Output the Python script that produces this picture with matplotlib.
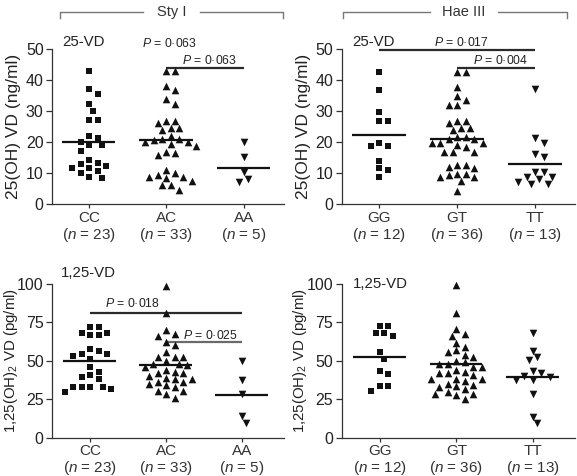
import numpy as np
import matplotlib
matplotlib.use('Agg')
import matplotlib.pyplot as plt
from matplotlib.lines import Line2D

plt.rcParams['font.family'] = ['Liberation Sans', 'DejaVu Sans']
plt.rcParams['mathtext.fontset'] = 'custom'
plt.rcParams['mathtext.rm'] = 'Liberation Sans'
plt.rcParams['mathtext.it'] = 'Liberation Sans:italic'

# ---- data ----
sty_cats = ['CC', 'AC', 'AA']
sty_n = [23, 33, 5]
hae_cats = ['GG', 'GT', 'TT']
hae_n = [12, 36, 13]

# 25(OH) VD, Sty I
sty25_cc = [43.1, 37.1, 35.5, 32.3, 30.1, 27.1, 27.1, 22.1, 21.4, 20.2, 19.2, 19.2,
            17.3, 14.3, 13.2, 12.9, 12.4, 11.6, 11.6, 10.7, 10.0, 8.9, 8.4]
sty25_ac = [43.1, 43.1, 38.2, 36.9, 34.1, 32.3, 27.0, 27.0, 26.1, 24.7, 24.7, 24.0,
            22.0, 21.0, 21.0, 20.7, 20.2, 20.2, 19.4, 18.8, 17.0, 16.5, 15.9,
            11.1, 10.0, 9.5, 8.9, 8.7, 8.4, 7.6, 6.2, 6.2, 4.6]
sty25_aa = [20.2, 15.4, 10.5, 8.1, 7.3]
sty25_med = [20.2, 20.7, 11.8]

# 25(OH) VD, Hae III
hae25_gg = [42.8, 36.9, 29.9, 27.0, 27.0, 19.9, 18.8, 18.8, 14.1, 11.6, 11.1, 8.7]
hae25_gt = [42.8, 42.8, 37.9, 34.9, 33.6, 32.0, 32.0, 27.0, 27.0, 26.1, 24.7, 24.7,
            24.0, 21.8, 21.8, 21.0, 21.0, 19.8, 19.8, 19.8, 19.1, 18.4, 17.0, 17.0,
            17.0, 12.7, 12.7, 11.9, 11.6, 9.8, 9.8, 9.3, 8.7, 8.7, 7.6, 4.4]
hae25_tt = [37.1, 21.3, 19.9, 16.1, 15.2, 10.5, 10.5, 8.9, 8.9, 8.1, 7.3, 6.5, 6.5]
hae25_med = [22.2, 21.0, 13.0]

# 1,25(OH)2 VD, Sty I
sty125_cc = [72.1, 72.1, 68.4, 68.4, 66.6, 66.6, 57.4, 56.7, 54.5, 54.5, 53.0, 51.2,
             45.7, 42.9, 40.7, 39.8, 38.0, 33.2, 33.2, 33.2, 33.2, 31.4, 29.7]
sty125_ac = [98.5, 80.9, 69.9, 67.7, 66.2, 62.2, 60.0, 55.6, 52.3, 52.3, 52.3,
             50.0, 48.0, 48.0, 47.0, 46.0, 44.0, 43.0, 42.0, 42.0, 40.0, 39.0, 38.0,
             38.0, 36.0, 36.0, 35.0, 34.0, 33.0, 30.3, 30.3, 28.1, 26.0]
sty125_aa = [50.1, 37.6, 28.1, 13.9, 9.5]
sty125_med = [49.7, 47.5, 27.5]

# 1,25(OH)2 VD, Hae III
hae125_gg = [72.7, 72.7, 68.4, 68.4, 66.3, 55.5, 51.2, 43.7, 41.5, 33.4, 33.4, 30.3]
hae125_gt = [99.2, 81.3, 70.6, 67.7, 66.3, 61.9, 59.2, 57.0, 55.5, 54.0, 52.8, 50.1,
             49.0, 48.0, 48.0, 46.3, 46.3, 43.9, 42.6, 41.9, 41.9, 40.5, 38.3, 38.3,
             37.9, 37.2, 35.1, 34.0, 33.4, 32.9, 31.9, 30.0, 28.6, 28.6, 27.5, 25.4]
hae125_tt = [68.4, 56.6, 52.3, 50.6, 43.7, 41.9, 40.3, 39.4, 37.6, 37.6, 28.6, 13.6, 9.3]
hae125_med = [52.7, 48.0, 39.4]

# significance bars: (from group, to group, height, label, label x, label y)
sty25_p = [(None, None, None, '0·063', 1.04, 52.0), (1, 2, 44.0, '0·063', 1.56, 46.5)]
hae25_p = [(0, 2, 49.7, '0·017', 1.06, 52.3), (1, 2, 44.0, '0·004', 1.55, 46.5)]
sty125_p = [(0, 2, 81.0, '0·018', 0.56, 87.0), (1, 2, 62.0, '0·025', 1.58, 66.6)]
hae125_p = []

markers = ['s', '^', 'v']
msize = [24, 30, 30]
ink = '#111111'
axcol = '#333333'


def swarm(ax, x0, vals, dx=8.5, dy=7.5):
    # simple beeswarm in pixel space, returns x positions in data units
    tr = ax.transData
    ppu = tr.transform((1, 0))[0] - tr.transform((0, 0))[0]
    ys = tr.transform(np.column_stack([np.zeros(len(vals)), vals]))[:, 1]
    xs = np.zeros(len(vals))
    placed = []
    step = dx / 2.0
    for i in np.argsort(-ys):
        y = ys[i]
        for k in range(60):
            cands = [0.0] if k == 0 else [k * step, -k * step]
            ok = None
            for c in cands:
                if all(((c - px) / dx) ** 2 + ((y - py) / dy) ** 2 >= 1 for px, py in placed):
                    ok = c
                    break
            if ok is not None:
                break
        placed.append((ok, y))
        xs[i] = x0 + ok / ppu
    return xs


def panel(ax, groups, meds, cats, ns, ylim, yticks, xlim, ylabel, ylsize, ylx, tag, tag_xy, pbars):
    ax.set_xlim(*xlim)
    ax.set_ylim(*ylim)
    for i, vals in enumerate(groups):
        xs = swarm(ax, i, vals)
        ax.scatter(xs, vals, marker=markers[i], s=msize[i], color=ink,
                   linewidths=0, clip_on=False, zorder=3)
        ax.plot([i - 0.35, i + 0.34], [meds[i], meds[i]], color=ink, lw=1.6,
                solid_capstyle='butt', zorder=4)
    for a, b, h, lab, tx, ty in pbars:
        if a is not None:
            ax.plot([a, b], [h, h], color='#2a2a2a' if h != 62.0 else '#6a6a6a',
                    lw=1.6, clip_on=False, solid_capstyle='butt')
        ax.text(tx, ty, '$P$ = ' + lab, ha='center', va='center', fontsize=8.8,
                color='#222222', clip_on=False)
    ax.text(tag_xy[0], tag_xy[1], tag, ha='left', va='center', fontsize=10.8,
            color='#222222', clip_on=False)
    ax.set_yticks(yticks)
    ax.set_xticks(range(3))
    ax.set_xticklabels(['%s\n($n$ = %d)' % (c, n) for c, n in zip(cats, ns)],
                       fontsize=11, color='#222222', linespacing=1.1)
    ax.tick_params(axis='y', direction='out', length=4, width=0.9, colors=axcol,
                   labelsize=11.5, labelcolor='#222222', pad=2)
    ax.tick_params(axis='x', direction='out', length=3, width=0.9, colors=axcol,
                   pad=1.5)
    for s in ['top', 'right']:
        ax.spines[s].set_visible(False)
    for s in ['left', 'bottom']:
        ax.spines[s].set_color(axcol)
        ax.spines[s].set_linewidth(0.9)
    ax.set_ylabel(ylabel, fontsize=ylsize, color='#222222')
    ax.yaxis.set_label_coords(ylx, 0.5)


fig = plt.figure(figsize=(5.77, 4.76), dpi=100)
ax1 = fig.add_axes([0.0901, 0.5708, 0.402, 0.3256])
ax2 = fig.add_axes([0.5922, 0.5708, 0.4043, 0.3256])
ax3 = fig.add_axes([0.0901, 0.0805, 0.402, 0.3229])
ax4 = fig.add_axes([0.5922, 0.0805, 0.4043, 0.3229])

lab25 = '25(OH) VD (ng/ml)'
lab125 = '1,25(OH)$_2$ VD (pg/ml)'

panel(ax1, [sty25_cc, sty25_ac, sty25_aa], sty25_med, sty_cats, sty_n,
      (0, 50), [0, 10, 20, 30, 40, 50], (-0.48, 2.52), lab25, 12.5, -0.134,
      '25-VD', (-0.35, 52.2), sty25_p)
panel(ax2, [hae25_gg, hae25_gt, hae25_tt], hae25_med, hae_cats, hae_n,
      (0, 50), [0, 10, 20, 30, 40, 50], (-0.48, 2.51), lab25, 12.5, -0.132,
      '25-VD', (-0.35, 52.2), hae25_p)
panel(ax3, [sty125_cc, sty125_ac, sty125_aa], sty125_med, sty_cats, sty_n,
      (0, 100), [0, 25, 50, 75, 100], (-0.5, 2.55), lab125, 10.8, -0.14,
      '1,25-VD', (-0.38, 107), sty125_p)
panel(ax4, [hae125_gg, hae125_gt, hae125_tt], hae125_med, hae_cats, hae_n,
      (0, 100), [0, 25, 50, 75, 100], (-0.5, 2.55), lab125, 10.8, -0.14,
      '1,25-VD', (-0.35, 100), hae125_p)

# top brackets
W, H = 577.0, 476.0
def bracket(x0, x1, gap0, gap1, label, xc):
    yb = 1 - 12 / H
    yt = 1 - 18 / H
    kw = dict(transform=fig.transFigure, color='#777777', lw=1.0)
    fig.add_artist(Line2D([x0 / W, x0 / W, gap0 / W], [yt, yb, yb], **kw))
    fig.add_artist(Line2D([gap1 / W, x1 / W, x1 / W], [yb, yb, yt], **kw))
    fig.text(xc / W, yb, label, ha='center', va='center', fontsize=10.5, color='#333333')

bracket(60, 283, 143, 200, 'Sty I', 172)
bracket(343, 567, 430, 498, 'Hae III', 464)

fig.savefig('out.png', dpi=100)
